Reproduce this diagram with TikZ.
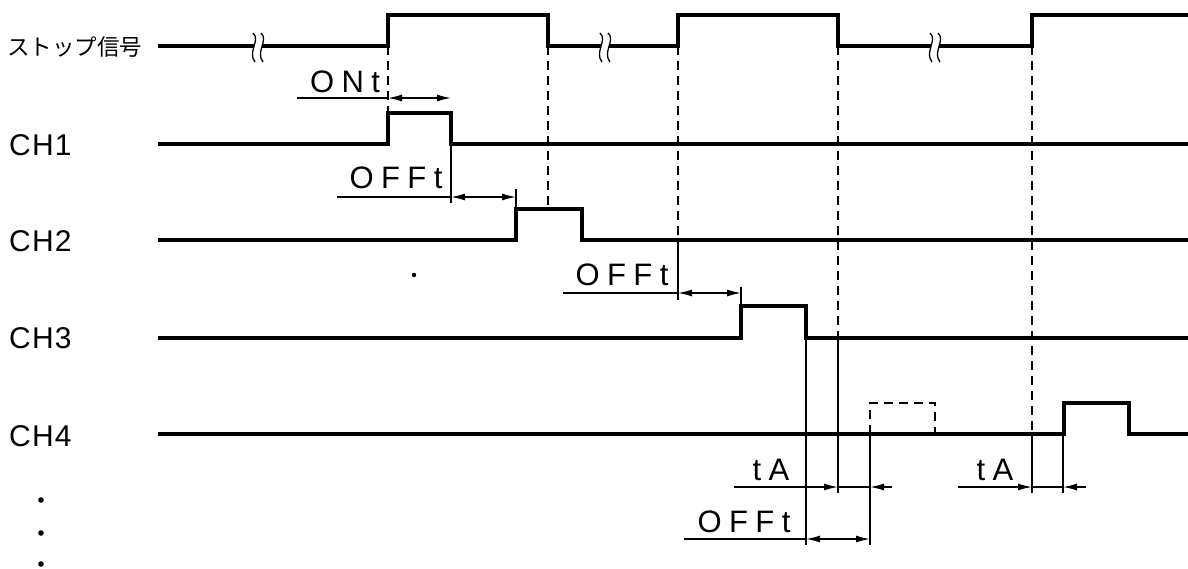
\documentclass[tikz,border=0pt]{standalone}
\usepackage{fontspec}
\usetikzlibrary{arrows.meta}
\newfontfamily\chfont[LetterSpace=4]{Liberation Sans}
\newfontfamily\dmfont[LetterSpace=24]{Liberation Sans}
\newfontfamily\jpfont{Noto Sans CJK JP}
\tikzset{
  sig/.style={line width=3.2pt, line join=miter, line cap=rect},
  thinln/.style={line width=1.4pt},
  dsh/.style={line width=1.5pt, dash pattern=on 9pt off 6pt},
  dimarrow/.style={line width=1.4pt, {Latex[length=14pt,width=7pt]}-{Latex[length=14pt,width=7pt]}},
  tipin/.style={line width=1.4pt, -{Latex[length=14pt,width=7pt]}},
  chlabel/.style={font=\chfont\fontsize{30}{32}\selectfont, anchor=west, inner sep=0pt},
  dimlabel/.style={font=\dmfont\fontsize{31}{33}\selectfont, anchor=base, inner sep=0pt},
  brk/.style={line width=1.3pt},
}
\newcommand{\breakmark}[2]{%
  \fill[white] (#1-4,#2-12) rectangle (#1+4,#2+12);
  \draw[brk] (#1-5,#2-13) .. controls (#1+3,#2-6) and (#1-11,#2+6) .. (#1-3,#2+16);
  \draw[brk] (#1+3,#2-13) .. controls (#1+11,#2-6) and (#1-3,#2+6) .. (#1+5,#2+16);
}
\begin{document}
\begin{tikzpicture}[x=1pt,y=-1pt]
\useasboundingbox (0,0) rectangle (1188,568);

% labels
\node[anchor=west, inner sep=0pt, font=\jpfont\fontsize{22.5}{24}\selectfont] (lstop) at (7,47) {ストップ信号};
\node[chlabel] (lch1) at (9,145) {CH1};
\node[chlabel] (lch2) at (9,241) {CH2};
\node[chlabel] (lch3) at (9,338) {CH3};
\node[chlabel] (lch4) at (9,436) {CH4};
\foreach \yy in {500,533,564}
  \fill (41,\yy) circle (2.8pt);
\fill (414,275) circle (2.2pt);

% key coordinates
\coordinate (s0) at (160,46);
\coordinate (sr1) at (388,46);
\coordinate (sf1) at (548,46);
\coordinate (sr2) at (678,46);
\coordinate (sf2) at (838,46);
\coordinate (sr3) at (1032,46);

% extension / reference lines
\draw[dsh] (sr1) -- (388,113);
\draw[dsh] (sf1) -- (548,209);
\draw[dsh] (sr2) -- (678,240);
\draw[thinln] (678,240) -- (678,300);
\draw[dsh] (sf2) -- (838,338);
\draw[thinln] (838,338) -- (838,493);
\draw[dsh] (sr3) -- (1032,434);
\draw[thinln] (1032,434) -- (1032,493);
\draw[thinln] (451,144) -- (451,203);
\draw[thinln] (516,189) -- (516,209);
\draw[thinln] (741,287) -- (741,306);
\draw[thinln] (806,338) -- (806,545);
\draw[thinln] (870,434) -- (870,545);
\draw[thinln] (1063,434) -- (1063,493);
\draw[dsh] (870,434) -- (870,403) -- (935,403) -- (935,434);

% stop signal
\draw[sig] (s0) -- (sr1) -- (388,15) -- (548,15) -- (sf1) -- (sr2) -- (678,15) -- (838,15) -- (sf2) -- (sr3) -- (1032,15) -- (1192,15);
\breakmark{258}{46}
\breakmark{605}{46}
\breakmark{935}{46}

% channels
\draw[sig] (160,144) -- (388,144) -- (388,113) -- (451,113) -- (451,144) -- (1192,144);
\draw[sig] (160,240) -- (516,240) -- (516,209) -- (582,209) -- (582,240) -- (1192,240);
\draw[sig] (160,338) -- (741,338) -- (741,306) -- (806,306) -- (806,338) -- (1192,338);
\draw[sig] (160,434) -- (1064,434) -- (1064,403) -- (1129,403) -- (1129,434) -- (1192,434);

% dimension: ONt
\node[dimlabel] (tOn) at (345,92) {ONt};
\draw[thinln] (297,98) -- (388,98);
\draw[dimarrow] (388,98) -- (451,98);
% OFFt CH2
\node[dimlabel] (tOff2) at (396,188) {OFFt};
\draw[thinln] (337,197) -- (451,197);
\draw[dimarrow] (451,197) -- (516,197);
% OFFt CH3
\node[dimlabel] (tOff3) at (622,285) {OFFt};
\draw[thinln] (563,293) -- (678,293);
\draw[dimarrow] (678,293) -- (741,293);
% tA first
\node[dimlabel] (tA1) at (771,480) {tA};
\draw[tipin] (734,487) -- (838,487);
\draw[tipin] (892,487) -- (870,487);
\draw[thinln] (838,487) -- (870,487);
% OFFt CH4
\node[dimlabel] (tOff4) at (744,532) {OFFt};
\draw[thinln] (684,539) -- (806,539);
\draw[dimarrow] (806,539) -- (870,539);
% tA second
\node[dimlabel] (tA2) at (995,480) {tA};
\draw[tipin] (958,487) -- (1032,487);
\draw[tipin] (1086,487) -- (1063,487);
\draw[thinln] (1032,487) -- (1063,487);
\end{tikzpicture}
\end{document}
